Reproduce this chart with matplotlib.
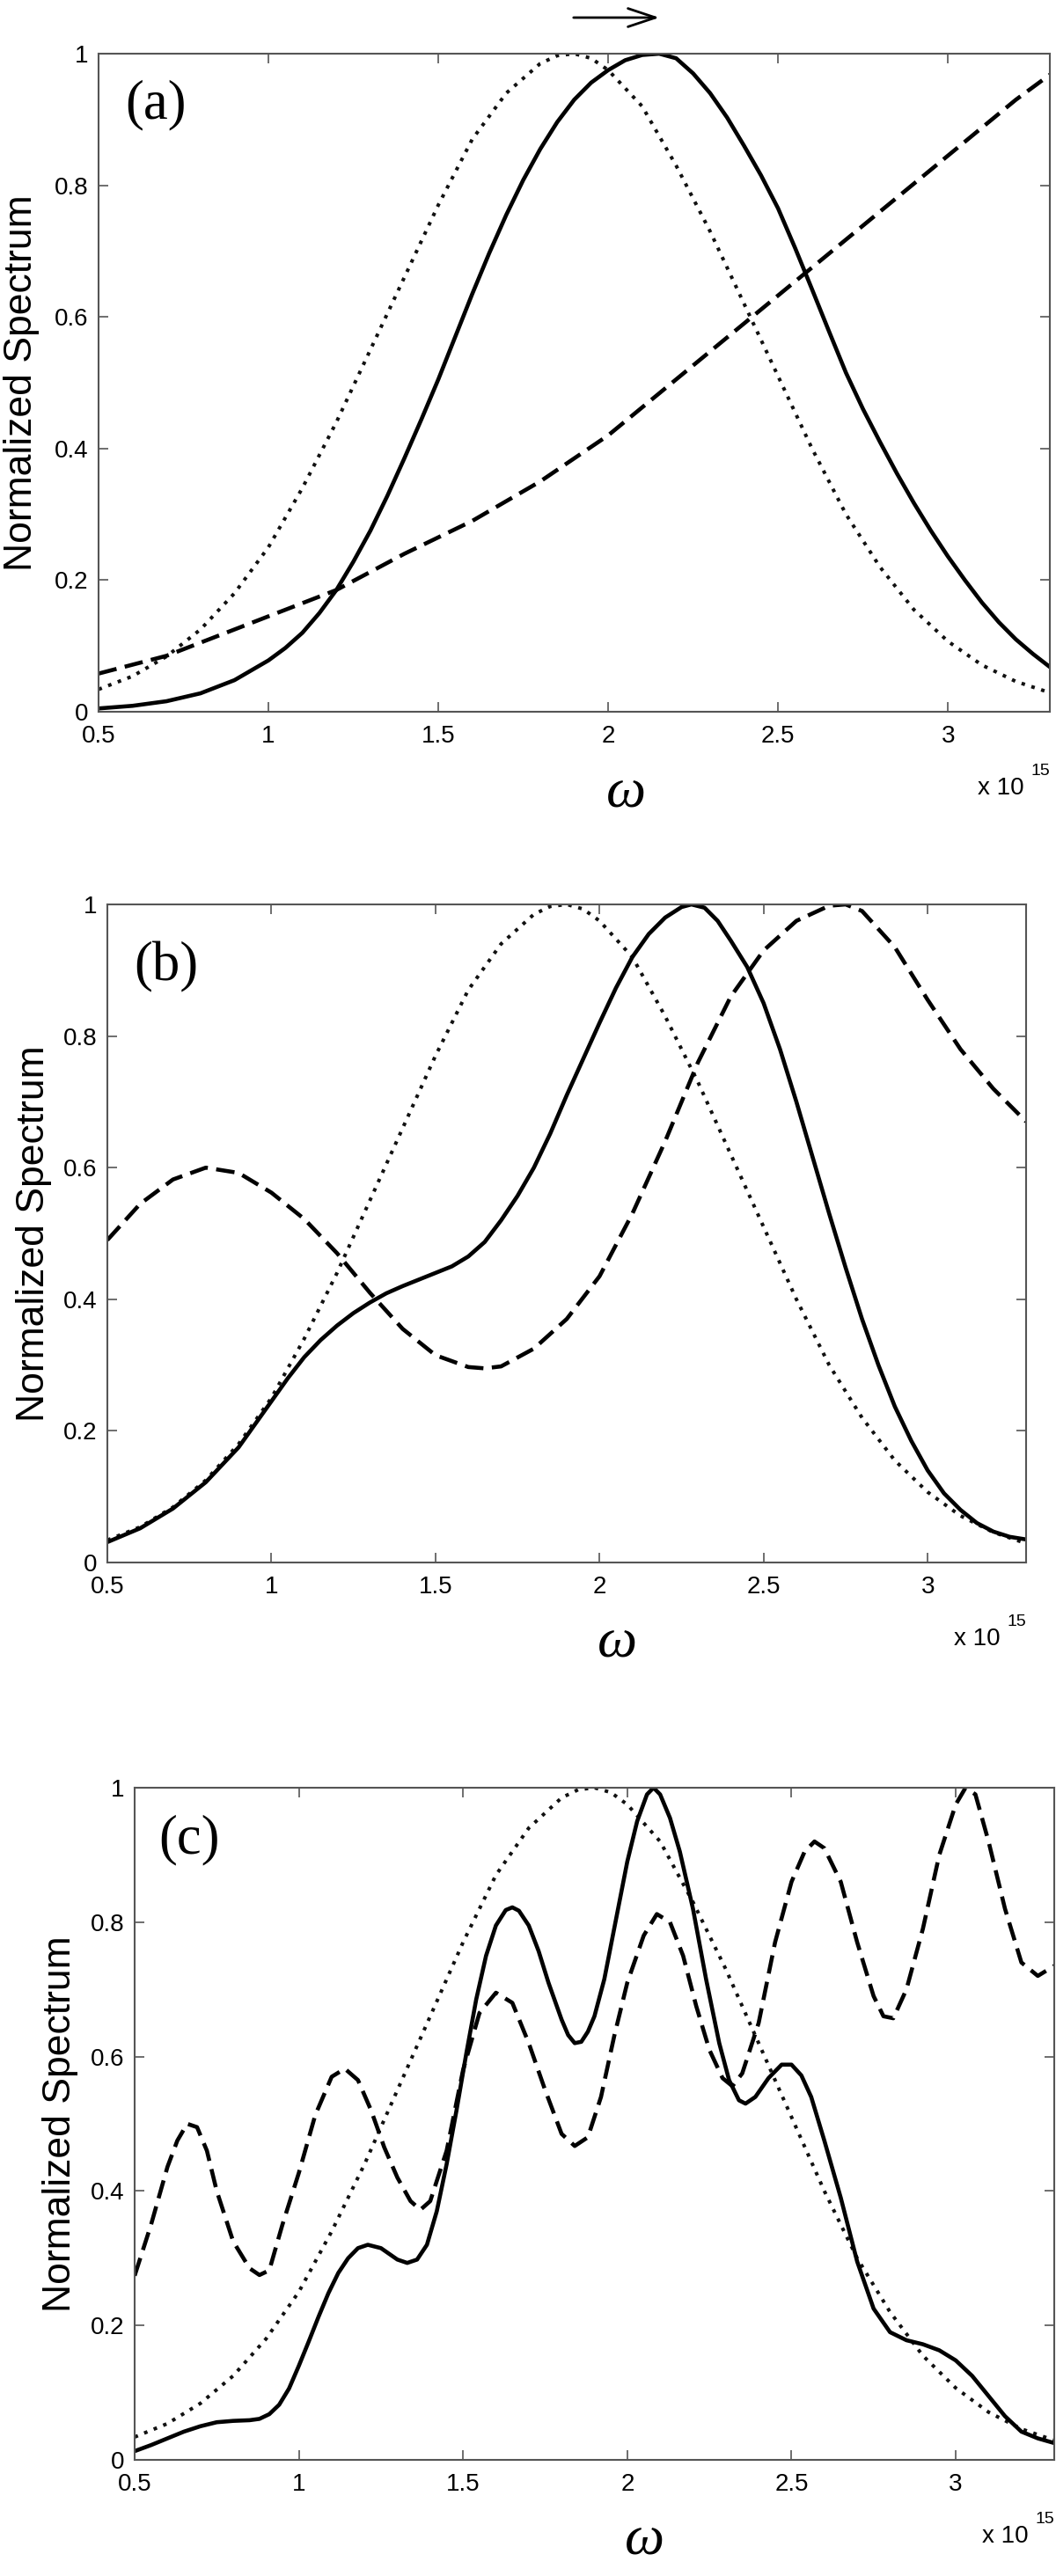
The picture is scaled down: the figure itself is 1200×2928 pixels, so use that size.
import matplotlib
matplotlib.use('Agg')
import matplotlib.pyplot as plt

# ---------------- data (omega in units of 1e15) ----------------
input_x = [0.5, 0.6, 0.7, 0.8, 0.9, 1.0, 1.1, 1.2, 1.3, 1.4, 1.5, 1.6, 1.7, 1.8, 1.85, 1.9,
           1.95, 2.0, 2.1, 2.2, 2.3, 2.4, 2.5, 2.6, 2.7, 2.8, 2.9, 3.0, 3.1, 3.2, 3.3]
input_y = [0.034, 0.054, 0.084, 0.125, 0.18, 0.25, 0.34, 0.44, 0.55, 0.66, 0.77, 0.87,
           0.94, 0.985, 0.997, 1.0, 0.993, 0.975, 0.92, 0.83, 0.73, 0.62, 0.51, 0.40, 0.30,
           0.22, 0.155, 0.107, 0.071, 0.046, 0.029]

a_solid_x = [0.5, 0.6, 0.7, 0.8, 0.9, 1.0, 1.05, 1.1, 1.15, 1.2, 1.25, 1.3, 1.35, 1.4, 1.45,
             1.5, 1.55, 1.6, 1.65, 1.7, 1.75, 1.8, 1.85, 1.9, 1.95, 2.0, 2.05, 2.1, 2.15,
             2.2, 2.25, 2.3, 2.35, 2.4, 2.45, 2.5, 2.55, 2.6, 2.65, 2.7, 2.75, 2.8, 2.85,
             2.9, 2.95, 3.0, 3.05, 3.1, 3.15, 3.2, 3.25, 3.3]
a_solid_y = [0.005, 0.009, 0.016, 0.028, 0.048, 0.078, 0.097, 0.12, 0.15, 0.185, 0.228,
             0.275, 0.328, 0.385, 0.444, 0.505, 0.57, 0.635, 0.697, 0.755, 0.808, 0.855,
             0.896, 0.93, 0.956, 0.975, 0.99, 0.998, 1.0, 0.993, 0.97, 0.94, 0.903, 0.86,
             0.815, 0.765, 0.705, 0.642, 0.578, 0.515, 0.46, 0.41, 0.362, 0.317, 0.275,
             0.236, 0.2, 0.166, 0.136, 0.11, 0.088, 0.068]
a_dash_x = [0.5, 0.7, 0.9, 1.0, 1.2, 1.4, 1.6, 1.8, 2.0, 2.2, 2.4, 2.6, 2.8, 3.0, 3.2, 3.3]
a_dash_y = [0.058, 0.085, 0.125, 0.145, 0.185, 0.24, 0.29, 0.35, 0.42, 0.505, 0.59,
            0.675, 0.76, 0.845, 0.93, 0.968]

b_solid_x = [0.5, 0.6, 0.7, 0.8, 0.9, 1.0, 1.05, 1.1, 1.15, 1.2, 1.25, 1.3, 1.35, 1.4, 1.45,
             1.5, 1.55, 1.6, 1.65, 1.7, 1.75, 1.8, 1.85, 1.9, 1.95, 2.0, 2.05, 2.1, 2.15,
             2.2, 2.25, 2.28, 2.32, 2.36, 2.4, 2.45, 2.5, 2.55, 2.6, 2.65, 2.7, 2.75, 2.8,
             2.85, 2.9, 2.95, 3.0, 3.05, 3.1, 3.15, 3.2, 3.25, 3.3]
b_solid_y = [0.031, 0.052, 0.082, 0.122, 0.175, 0.245, 0.28, 0.312, 0.338, 0.36, 0.379,
             0.395, 0.409, 0.42, 0.43, 0.44, 0.45, 0.465, 0.487, 0.52, 0.557, 0.60, 0.652,
             0.71, 0.765, 0.82, 0.873, 0.92, 0.955, 0.98, 0.996, 1.0, 0.995, 0.975, 0.945,
             0.905, 0.85, 0.78, 0.70, 0.615, 0.53, 0.448, 0.37, 0.30, 0.237, 0.185, 0.14,
             0.105, 0.08, 0.06, 0.047, 0.039, 0.035]
b_dash_x = [0.5, 0.6, 0.7, 0.8, 0.9, 1.0, 1.1, 1.2, 1.3, 1.4, 1.5, 1.6, 1.65, 1.7, 1.8,
            1.9, 2.0, 2.1, 2.2, 2.3, 2.4, 2.5, 2.6, 2.7, 2.75, 2.8, 2.9, 3.0, 3.1, 3.2, 3.3]
b_dash_y = [0.49, 0.545, 0.582, 0.60, 0.592, 0.562, 0.522, 0.47, 0.41, 0.355, 0.315,
            0.297, 0.295, 0.298, 0.325, 0.37, 0.435, 0.53, 0.64, 0.76, 0.86, 0.93, 0.975,
            0.998, 1.0, 0.99, 0.935, 0.855, 0.78, 0.72, 0.67]

c_solid_x = [0.5, 0.55, 0.6, 0.65, 0.7, 0.75, 0.8, 0.85, 0.88, 0.91, 0.94, 0.97, 1.0,
             1.03, 1.06, 1.09, 1.12, 1.15, 1.18, 1.21, 1.25, 1.3, 1.33, 1.36, 1.39, 1.42,
             1.45, 1.48, 1.51, 1.54, 1.57, 1.6, 1.63, 1.65, 1.67, 1.7, 1.73, 1.76, 1.8,
             1.82, 1.84, 1.86, 1.88, 1.9, 1.93, 1.96, 2.0, 2.03, 2.06, 2.08, 2.1, 2.13,
             2.16, 2.2, 2.24, 2.28, 2.31, 2.34, 2.36, 2.39, 2.43, 2.47, 2.5, 2.53, 2.56,
             2.6, 2.65, 2.7, 2.75, 2.8, 2.85, 2.9, 2.95, 3.0, 3.05, 3.1, 3.15, 3.2, 3.25,
             3.3]
c_solid_y = [0.013, 0.022, 0.032, 0.042, 0.05, 0.056, 0.058, 0.059, 0.061, 0.068, 0.082,
             0.106, 0.14, 0.176, 0.213, 0.248, 0.278, 0.3, 0.315, 0.32, 0.315, 0.298,
             0.293, 0.298, 0.32, 0.37, 0.44, 0.52, 0.605, 0.685, 0.75, 0.795, 0.818,
             0.822, 0.817, 0.795, 0.757, 0.71, 0.655, 0.632, 0.62, 0.622, 0.637, 0.66,
             0.715, 0.79, 0.89, 0.95, 0.99, 1.0, 0.99, 0.955, 0.905, 0.82, 0.715, 0.62,
             0.565, 0.535, 0.53, 0.54, 0.568, 0.588, 0.588, 0.572, 0.54, 0.475, 0.39,
             0.295, 0.225, 0.19, 0.178, 0.172, 0.163, 0.148, 0.125, 0.095, 0.065, 0.042,
             0.032, 0.025]
c_dash_x = [0.5, 0.55, 0.6, 0.63, 0.66, 0.69, 0.72, 0.75, 0.8, 0.85, 0.88, 0.91, 0.95, 1.0,
            1.05, 1.1, 1.14, 1.18, 1.22, 1.26, 1.3, 1.34, 1.37, 1.4, 1.45, 1.5, 1.55,
            1.6, 1.65, 1.7, 1.75, 1.8, 1.84, 1.88, 1.92, 1.96, 2.0, 2.05, 2.09, 2.13,
            2.17, 2.21, 2.25, 2.29, 2.32, 2.35, 2.4, 2.45, 2.5, 2.54, 2.57, 2.6, 2.65,
            2.7, 2.75, 2.78, 2.81, 2.85, 2.9, 2.95, 3.0, 3.03, 3.06, 3.1, 3.15, 3.2, 3.25,
            3.3]
c_dash_y = [0.274, 0.35, 0.436, 0.475, 0.50, 0.495, 0.46, 0.40, 0.325, 0.285, 0.275,
            0.282, 0.35, 0.427, 0.513, 0.57, 0.582, 0.565, 0.52, 0.465, 0.42, 0.385,
            0.372, 0.385, 0.46, 0.58, 0.665, 0.695, 0.68, 0.62, 0.55, 0.485, 0.467, 0.48,
            0.54, 0.63, 0.71, 0.78, 0.812, 0.8, 0.75, 0.675, 0.61, 0.568, 0.556, 0.575,
            0.65, 0.77, 0.86, 0.905, 0.92, 0.91, 0.86, 0.77, 0.69, 0.66, 0.657, 0.70,
            0.79, 0.90, 0.975, 1.0, 0.99, 0.92, 0.82, 0.74, 0.72, 0.735]

x_ticks = [0.5, 1, 1.5, 2, 2.5, 3]
x_tick_labels = ['0.5', '1', '1.5', '2', '2.5', '3']
y_ticks = [0, 0.2, 0.4, 0.6, 0.8, 1]
y_tick_labels = ['0', '0.2', '0.4', '0.6', '0.8', '1']
panel_labels = ['(a)', '(b)', '(c)']
y_label = 'Normalized Spectrum'
x_label = 'ω'

panels = [
    (a_solid_x, a_solid_y, a_dash_x, a_dash_y),
    (b_solid_x, b_solid_y, b_dash_x, b_dash_y),
    (c_solid_x, c_solid_y, c_dash_x, c_dash_y),
]

# ---------------- layout (pixels) ----------------
W, H = 1200, 2928
fig = plt.figure(figsize=(W / 100, H / 100), dpi=100)
fig.patch.set_facecolor('white')

def fx(px):
    return px / W

def fy(py):
    return 1 - py / H

# left, top, right, bottom of each axes box
boxes = [(112, 61, 1193, 809), (122, 1028, 1166, 1776), (153, 2032, 1198, 2796)]
ylabel_x = [36, 50, 80]
plabel_pos = [(142, 134), (152, 1114), (180, 2106)]

SANS = ['Liberation Sans', 'DejaVu Sans']
SERIF = ['Liberation Serif', 'DejaVu Serif']

for i, (box, data) in enumerate(zip(boxes, panels)):
    l, t, r, b = box
    ax = fig.add_axes([fx(l), fy(b), (r - l) / W, (b - t) / H])
    sx, sy, dx, dy = data
    ax.plot(input_x, input_y, color='#111111', lw=2.9, ls=(0, (1, 1.9)))
    ax.plot(sx, sy, color='black', lw=3.3, solid_joinstyle='round')
    ax.plot(dx, dy, color='black', lw=3.3, ls=(0, (4.6, 2.1)))
    ax.set_xlim(0.5, 3.3)
    ax.set_ylim(0, 1)
    ax.set_xticks(x_ticks)
    ax.set_xticklabels(x_tick_labels, family=SANS)
    ax.set_yticks(y_ticks)
    ax.set_yticklabels(y_tick_labels, family=SANS)
    ax.tick_params(direction='in', length=8, width=1.2, color='#555555',
                   top=True, right=True, labelsize=20, labelcolor='black')
    ax.tick_params(axis='x', pad=11)
    ax.tick_params(axis='y', pad=8.5)
    for sp in ax.spines.values():
        sp.set_color('#555555')
        sp.set_linewidth(1.5)

    # panel label
    px, py = plabel_pos[i]
    fig.text(fx(px), fy(py), panel_labels[i], family=SERIF, fontsize=45,
             ha='left', va='baseline')
    # y label
    fig.text(fx(ylabel_x[i]), fy((t + b) / 2), y_label, rotation=90,
             rotation_mode='anchor', ha='center', va='baseline',
             fontsize=32, family=SANS)
    # x label (omega) placed near data x = 2.0
    ox = l + (2.0 - 0.5) / 2.8 * (r - l) + 20
    fig.text(fx(ox), fy(b + 93), x_label, family=SERIF, style='italic',
             fontsize=46, ha='center', va='center')
    # exponent label
    base = b + 94
    fig.text(fx(r - 29), fy(base), 'x 10', family=SANS, fontsize=20,
             ha='right', va='baseline')
    fig.text(fx(r), fy(base - 22), '15', family=SANS, fontsize=14,
             ha='right', va='baseline')

# arrow above panel (a)
fig.patches.append(matplotlib.patches.FancyArrowPatch(
    (fx(649), fy(20)), (fx(752), fy(20)), transform=fig.transFigure,
    arrowstyle='->,head_length=0.9,head_width=0.3', mutation_scale=25,
    lw=2, color='black'))

fig.savefig('out.png', dpi=100, facecolor='white')
